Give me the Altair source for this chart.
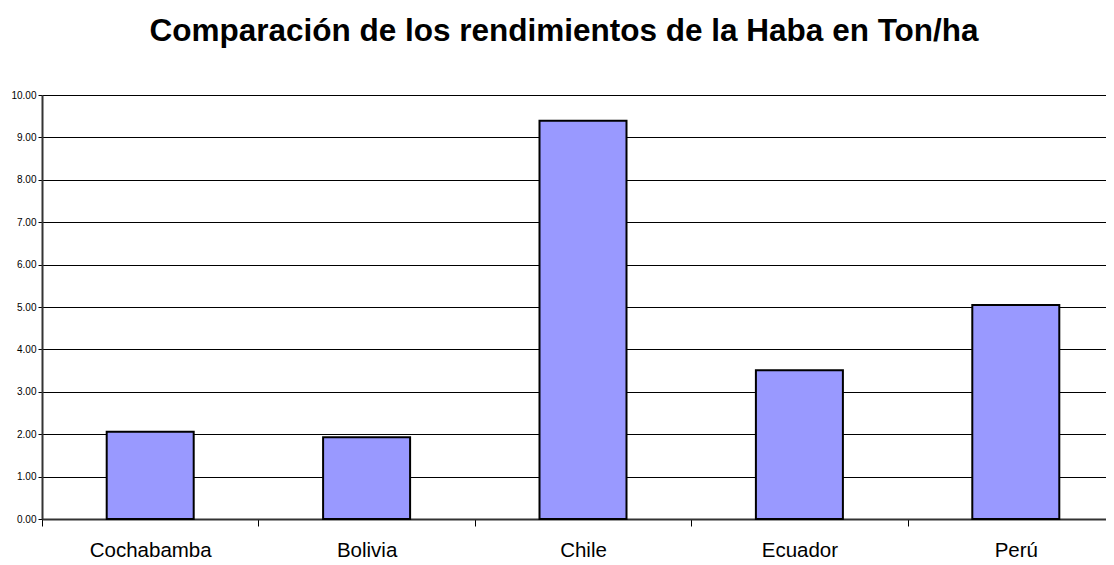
import altair as alt
import pandas as pd

regions = ["Cochabamba", "Bolivia", "Chile", "Ecuador", "Perú"]
yields = [2.06, 1.93, 9.39, 3.51, 5.05]
title_text = "Comparación de los rendimientos de la Haba en Ton/ha"

df = pd.DataFrame({"region": regions, "rendimiento": yields})

FONT = "Liberation Sans"

chart = alt.Chart(df).mark_bar(
    fill="#9999FF", stroke="black", strokeWidth=2, size=87
).encode(
    x=alt.X("region:N", sort=regions, title=None,
            scale=alt.Scale(range=[0, 1082], paddingInner=0, paddingOuter=0),
            axis=alt.Axis(labelAngle=0, labelFontSize=20.5, labelFont=FONT, labelColor="black",
                          tickBand="extent", tickSize=7, tickColor="black",
                          domainColor="#333333", domainWidth=2, labelPadding=14,
                          grid=False)),
    y=alt.Y("rendimiento:Q", title=None,
            scale=alt.Scale(domain=[0, 10], nice=False),
            axis=alt.Axis(values=list(range(0, 11)), format=".2f", labelFontSize=10,
                          labelFont=FONT, labelColor="black", tickSize=4, tickColor="black",
                          domainColor="#333333", domainWidth=2, labelPadding=2,
                          grid=True, gridColor="black", gridWidth=1)),
).properties(
    width=1064, height=424,
    title=alt.TitleParams(title_text, fontSize=31.5, font=FONT, fontWeight="bold",
                          color="black", anchor="middle", dx=-10, offset=43),
    autosize=alt.AutoSizeParams(type="none"),
    padding={"left": 34, "top": 87, "right": 0, "bottom": 46},
).configure_view(stroke="#808080", strokeWidth=2).configure(background="white")

chart.save("out.html", embed_options={"renderer": "svg", "actions": False})
